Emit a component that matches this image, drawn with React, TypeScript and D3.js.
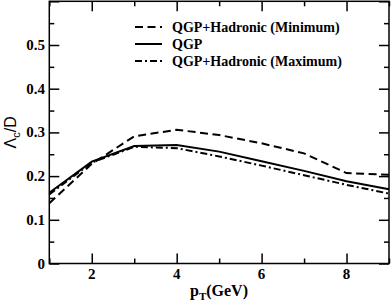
import React, { useRef, useEffect } from 'react';
import * as d3 from 'd3';

const ptValues = [1, 2, 3, 4, 5, 6, 7, 8, 9];
const hadronicMin = [0.138, 0.228, 0.291, 0.306, 0.294, 0.275, 0.252, 0.207, 0.203];
const qgpOnly = [0.162, 0.233, 0.269, 0.271, 0.256, 0.234, 0.212, 0.188, 0.170];
const hadronicMax = [0.158, 0.231, 0.267, 0.264, 0.245, 0.224, 0.202, 0.180, 0.160];

const seriesNames = ['QGP+Hadronic (Minimum)', 'QGP', 'QGP+Hadronic (Maximum)'];
const seriesDash = ['8,4.5', null, '7,3,2,3'];

const xMajor = [2, 4, 6, 8];
const xMinor = [1, 3, 5, 7, 9];
const yMajor = [0, 0.1, 0.2, 0.3, 0.4, 0.5, 0.6];
const yLabels = [0, 0.1, 0.2, 0.3, 0.4, 0.5];
const yMinor = [0.05, 0.15, 0.25, 0.35, 0.45, 0.55];

const serif = "'Liberation Serif', 'Times New Roman', Times, serif";

const App = () => {
  const svgRef = useRef<SVGSVGElement>(null);

  useEffect(() => {
    const width = 391;
    const height = 304;
    const left = 49.3, right = 389, top = 1.3, bottom = 263.5;

    const svg = d3.select(svgRef.current);
    svg.selectAll('*').remove();
    svg.attr('width', width).attr('height', height);

    const x = d3.scaleLinear().domain([1, 9]).range([left, right]);
    const y = d3.scaleLinear().domain([0, 0.6]).range([bottom, top]);

    // ticks, inward on all four sides (labels drawn separately)
    const tickGroup = (axis: any, tx: number, ty: number) =>
      svg.append('g')
        .attr('transform', `translate(${tx},${ty})`)
        .call(axis.tickFormat(() => ''))
        .call(g => g.select('.domain').remove())
        .call(g => g.selectAll('line').attr('stroke', '#000').attr('stroke-width', 1.5));

    tickGroup(d3.axisBottom(x).tickValues(xMajor).tickSize(-10), 0, bottom);
    tickGroup(d3.axisBottom(x).tickValues(xMinor).tickSize(-5), 0, bottom);
    tickGroup(d3.axisTop(x).tickValues(xMajor).tickSize(-10), 0, top);
    tickGroup(d3.axisTop(x).tickValues(xMinor).tickSize(-5), 0, top);
    tickGroup(d3.axisLeft(y).tickValues(yMajor).tickSize(-10), left, 0);
    tickGroup(d3.axisLeft(y).tickValues(yMinor).tickSize(-5), left, 0);
    tickGroup(d3.axisRight(y).tickValues(yMajor).tickSize(-10), right, 0);
    tickGroup(d3.axisRight(y).tickValues(yMinor).tickSize(-5), right, 0);

    // tick labels
    svg.append('g').selectAll('text')
      .data(xMajor)
      .join('text')
      .attr('x', d => x(d))
      .attr('y', 279)
      .attr('text-anchor', 'middle')
      .attr('font-family', serif).attr('font-weight', 'bold').attr('font-size', 15)
      .text(d => d);

    svg.append('g').selectAll('text')
      .data(yLabels)
      .join('text')
      .attr('x', 45)
      .attr('y', d => y(d) + 5)
      .attr('text-anchor', 'end')
      .attr('font-family', serif).attr('font-weight', 'bold').attr('font-size', 15)
      .text(d => (d === 0 ? '0' : d3.format('.1f')(d)));

    // frame
    svg.append('rect')
      .attr('x', left).attr('y', top)
      .attr('width', right - left).attr('height', bottom - top)
      .attr('fill', 'none').attr('stroke', '#000').attr('stroke-width', 1.5);

    // curves
    const line = d3.line<number>()
      .x((d, i) => x(ptValues[i]))
      .y(d => y(d));

    [hadronicMin, qgpOnly, hadronicMax].forEach((vals, i) => {
      svg.append('path')
        .datum(vals)
        .attr('d', line)
        .attr('fill', 'none')
        .attr('stroke', '#000')
        .attr('stroke-width', 2)
        .attr('stroke-dasharray', seriesDash[i]);
    });

    // legend
    const legend = svg.append('g');
    seriesNames.forEach((name, i) => {
      const ly = 27 + i * 17;
      legend.append('line')
        .attr('x1', 135).attr('x2', 162)
        .attr('y1', ly).attr('y2', ly)
        .attr('stroke', '#000').attr('stroke-width', 2)
        .attr('stroke-dasharray', seriesDash[i]);
      legend.append('text')
        .attr('x', 172).attr('y', ly + 5)
        .attr('font-family', serif).attr('font-weight', 'bold').attr('font-size', 14)
        .text(name);
    });

    // axis titles
    const xt = svg.append('text')
      .attr('x', 219).attr('y', 296)
      .attr('text-anchor', 'middle')
      .attr('font-family', serif).attr('font-weight', 'bold').attr('font-size', 16);
    xt.append('tspan').text('p');
    xt.append('tspan').attr('dy', 4).attr('font-size', 11).text('T');
    xt.append('tspan').attr('dy', -4).text('(GeV)');

    const yt = svg.append('text')
      .attr('transform', `translate(16,${(top + bottom) / 2}) rotate(-90)`)
      .attr('text-anchor', 'middle')
      .attr('font-family', "'Liberation Sans', Arial, sans-serif").attr('font-size', 16);
    yt.append('tspan').text('Λ');
    yt.append('tspan').attr('dy', 4).attr('font-size', 11).text('c');
    yt.append('tspan').attr('dy', -4).text('/D');
  }, []);

  return (
    <div style={{ position: 'absolute', left: 0, top: 0 }}>
      <svg ref={svgRef} style={{ display: 'block' }} />
    </div>
  );
};

export default App;
